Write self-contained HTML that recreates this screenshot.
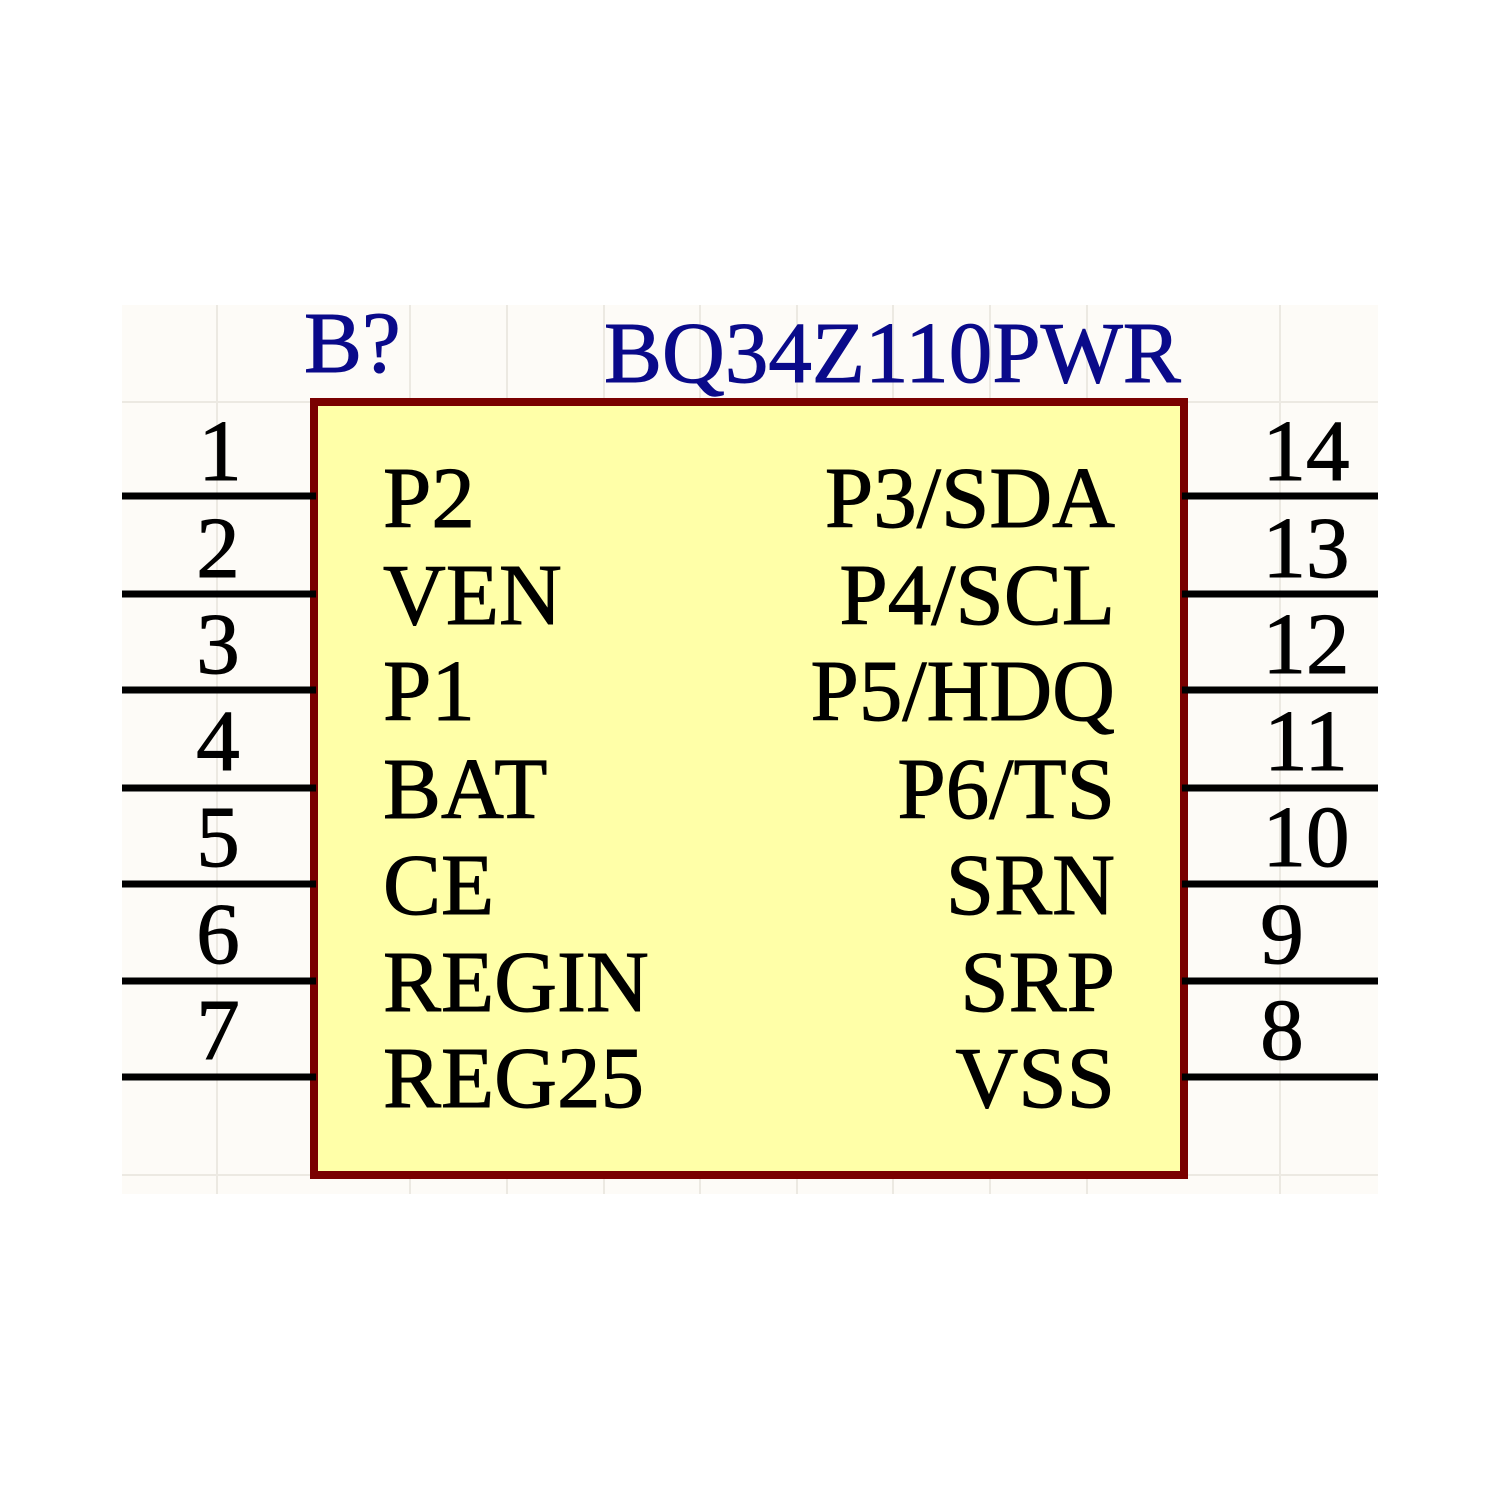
<!DOCTYPE html>
<html><head><style>
body{margin:0;background:#fff}
svg{display:block}
text{font-family:"Liberation Serif",serif}
</style></head><body>
<svg width="1500" height="1500" viewBox="0 0 1500 1500">
<rect x="122" y="305" width="1256" height="889" fill="#fdfbf7"/>
<g stroke="#ece9e2" stroke-width="2">
<line x1="217" y1="305" x2="217" y2="1194"/><line x1="410" y1="305" x2="410" y2="1194"/><line x1="507" y1="305" x2="507" y2="1194"/><line x1="604" y1="305" x2="604" y2="1194"/><line x1="700" y1="305" x2="700" y2="1194"/><line x1="797" y1="305" x2="797" y2="1194"/><line x1="893" y1="305" x2="893" y2="1194"/><line x1="990" y1="305" x2="990" y2="1194"/><line x1="1087" y1="305" x2="1087" y2="1194"/><line x1="1280" y1="305" x2="1280" y2="1194"/>
<line x1="122" y1="402" x2="1378" y2="402"/><line x1="122" y1="1175" x2="1378" y2="1175"/>
</g>
<rect x="314" y="402" width="870" height="773" fill="#ffffa8" stroke="#7a0000" stroke-width="8"/>
<g stroke="#000" stroke-width="7">
<line x1="122" y1="496" x2="316" y2="496"/><line x1="122" y1="594" x2="316" y2="594"/><line x1="122" y1="690" x2="316" y2="690"/><line x1="122" y1="788" x2="316" y2="788"/><line x1="122" y1="884" x2="316" y2="884"/><line x1="122" y1="981" x2="316" y2="981"/><line x1="122" y1="1077" x2="316" y2="1077"/>
<line x1="1182" y1="496" x2="1378" y2="496"/><line x1="1182" y1="594" x2="1378" y2="594"/><line x1="1182" y1="690" x2="1378" y2="690"/><line x1="1182" y1="788" x2="1378" y2="788"/><line x1="1182" y1="884" x2="1378" y2="884"/><line x1="1182" y1="981" x2="1378" y2="981"/><line x1="1182" y1="1077" x2="1378" y2="1077"/>
</g>
<g font-size="87" fill="#0a0a8a" stroke="#0a0a8a" stroke-width="1">
<text x="304" y="372">B?</text>
<text x="604" y="382">BQ34Z110PWR</text>
</g>
<g font-size="87" fill="#000" stroke="#000" stroke-width="1">
<text x="383" y="527">P2</text><text x="383" y="624">VEN</text><text x="383" y="720">P1</text><text x="383" y="818">BAT</text><text x="383" y="914">CE</text><text x="383" y="1011">REGIN</text><text x="383" y="1107">REG25</text>
<g text-anchor="end">
<text x="1115" y="527">P3/SDA</text><text x="1115" y="624">P4/SCL</text><text x="1115" y="720">P5/HDQ</text><text x="1115" y="818">P6/TS</text><text x="1115" y="914">SRN</text><text x="1115" y="1011">SRP</text><text x="1115" y="1107">VSS</text>
</g>
<g text-anchor="middle">
<text x="220" y="480">1</text><text x="218" y="577">2</text><text x="218" y="673">3</text><text x="218" y="770">4</text><text x="218" y="866">5</text><text x="218" y="963">6</text><text x="218" y="1059">7</text>
<text x="1306" y="480">14</text><text x="1306" y="577">13</text><text x="1306" y="673">12</text><text x="1306" y="770">11</text><text x="1306" y="866">10</text><text x="1282" y="963">9</text><text x="1282" y="1059">8</text>
</g>
</g>
</svg>
</body></html>
